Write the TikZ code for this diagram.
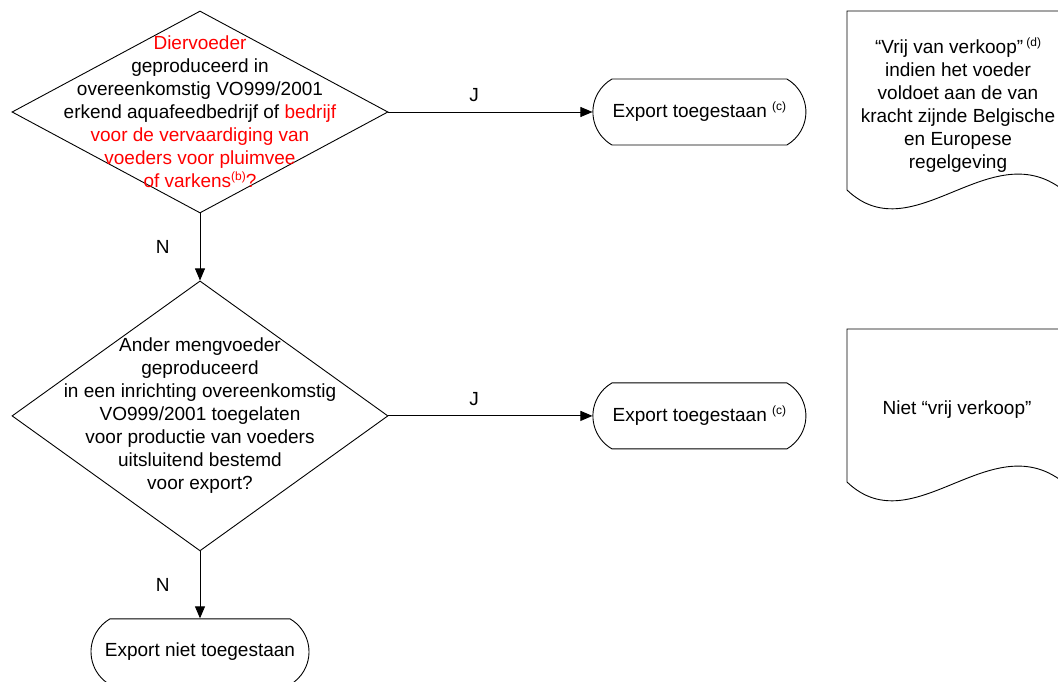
\documentclass[tikz,border=0pt]{standalone}
\usepackage{fontspec}
\setmainfont{Liberation Sans}
\usetikzlibrary{positioning,shapes.geometric,shapes.misc,arrows.meta}
\newcommand{\noot}[1]{\raisebox{7pt}{\fontsize{12}{12}\selectfont(#1)}}

\begin{document}
\begin{tikzpicture}[x=1pt, y=-1pt, line width=0.9pt,
    every node/.style={font=\fontsize{19}{23}\selectfont},
    decision/.style={diamond, draw, inner sep=0pt, minimum width=376pt},
    qtext/.style={align=center, inner sep=0pt},
    terminal/.style={rounded rectangle, rounded rectangle arc length=120, draw, inner xsep=-6pt, minimum width=201pt, minimum height=66pt},
    flow/.style={-{Triangle[length=12pt,width=10pt]}},
    answer/.style={inner sep=0pt}]
    \useasboundingbox (0,0) rectangle (1058,682);

    % Decisions
    \node[decision, minimum height=202pt] (diervoeder) at (200,112) {};
    \node[qtext] (diervoedertxt) at (diervoeder.center) {\textcolor{red}{Diervoeder}\\ geproduceerd in\\ overeenkomstig VO999/2001\\ erkend aquafeedbedrijf of \textcolor{red}{bedrijf}\\ \textcolor{red}{voor de vervaardiging van}\\ \textcolor{red}{voeders voor pluimvee}\\ \textcolor{red}{of varkens\noot{b}?}};
    \node[decision, minimum height=270pt, below=67pt of diervoeder] (mengvoeder) {};
    \node[qtext] (mengvoedertxt) at (mengvoeder.center) {Ander mengvoeder\\ geproduceerd\\ in een inrichting overeenkomstig\\ VO999/2001 toegelaten\\ voor productie van voeders\\ uitsluitend bestemd\\ voor export?};

    % Outcomes
    \node[terminal, right=204pt of diervoeder] (export1) {Export toegestaan \noot{c}};
    \node[terminal, right=204pt of mengvoeder] (export2) {Export toegestaan \noot{c}};
    \node[terminal, minimum width=206pt, below=67pt of mengvoeder] (geenexport) {Export niet toegestaan};

    % Connectors
    \draw[flow] (diervoeder.east) -- node[pos=0.42, above=10pt, answer] {J} (export1.west);
    \draw[flow] (diervoeder.south) -- node[left=30pt, answer] {N} (mengvoeder.north);
    \draw[flow] (mengvoeder.east) -- node[pos=0.42, above=10pt, answer] {J} (export2.west);
    \draw[flow] (mengvoeder.south) -- node[left=30pt, answer] {N} (geenexport.north);

    % Notes
    \node[qtext] (vrijverkoop) at (958,105) {“Vrij van verkoop”\,\noot{d}\\ indien het voeder\\ voldoet aan de van\\ kracht zijnde Belgische\\ en Europese\\ regelgeving};
    \draw (1070,11) -- (847,11) -- (847,190) .. controls (915,255) and (995,125) .. (1070,196) -- cycle;
    \node[qtext] (nietvrij) at (957,410) {Niet “vrij verkoop”};
    \draw (1070,329) -- (847,329) -- (847,482) .. controls (915,547) and (995,417) .. (1070,488) -- cycle;
\end{tikzpicture}
\end{document}
